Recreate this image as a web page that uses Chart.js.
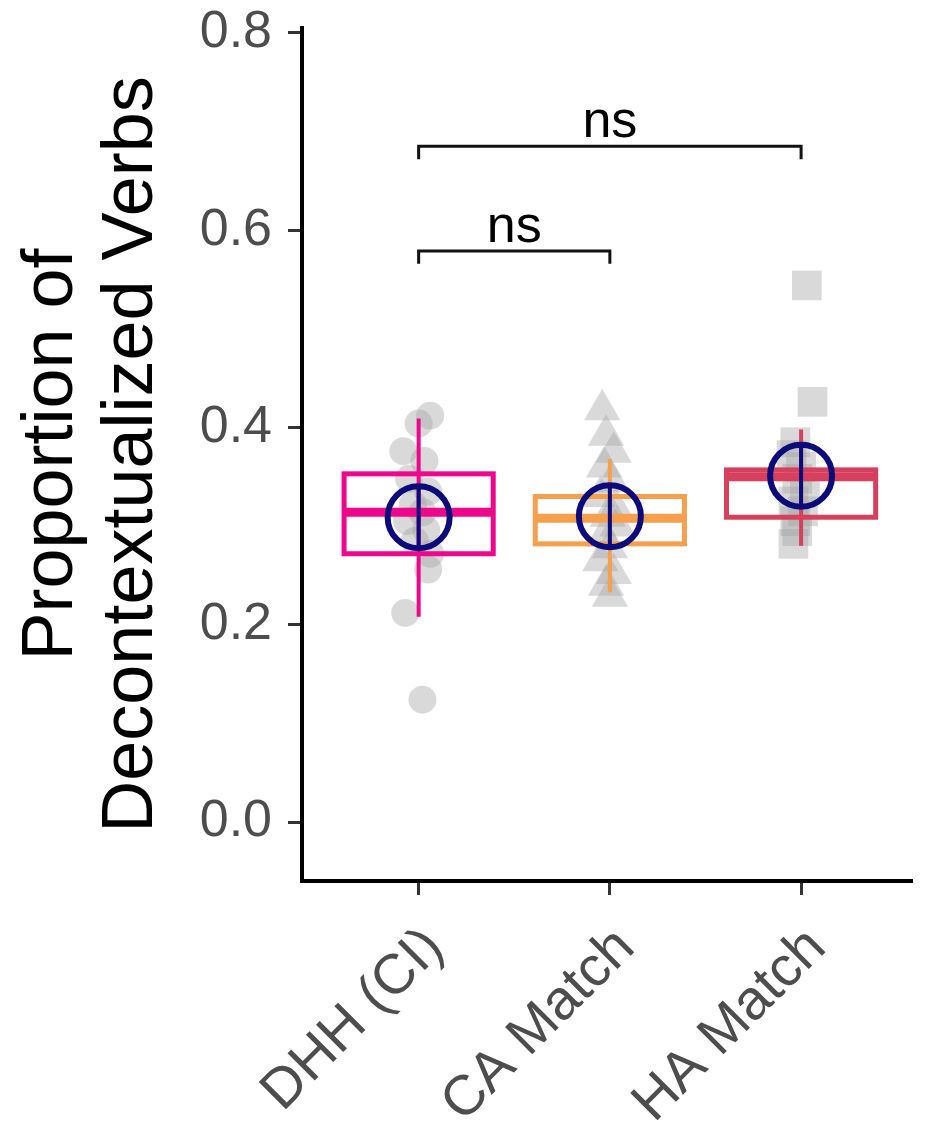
<!DOCTYPE html>
<html>
<head>
<meta charset="utf-8">
<script src="https://cdn.jsdelivr.net/npm/chart.js@4/dist/chart.umd.min.js"></script>
<style>
  body { margin: 0; background: #fff; }
</style>
</head>
<body>
<canvas id="chart" width="930" height="1135"></canvas>
<script>
// groups and axis ticks
const categories = ['DHH (CI)', 'CA Match', 'HA Match'];
const yTicks = [0, 0.2, 0.4, 0.6, 0.8];

// individual participants, with their horizontal jitter
const dhhValues = [0.412, 0.404, 0.376, 0.366, 0.348, 0.335, 0.322, 0.314, 0.305, 0.296, 0.285, 0.272, 0.256, 0.212, 0.124];
const dhhJitter = [0.06, 0.0, -0.08, 0.03, -0.05, 0.05, -0.03, 0.02, -0.06, 0.04, -0.02, 0.06, 0.05, -0.07, 0.02];
const caValues = [0.418, 0.392, 0.375, 0.36, 0.345, 0.33, 0.318, 0.31, 0.3, 0.29, 0.278, 0.265, 0.252, 0.24, 0.229];
const caJitter = [-0.04, -0.02, 0.02, -0.03, 0.01, -0.05, 0.03, -0.01, 0.04, -0.03, 0.0, -0.05, 0.02, -0.02, 0.0];
const haValues = [0.544, 0.426, 0.385, 0.372, 0.36, 0.348, 0.338, 0.325, 0.315, 0.305, 0.295, 0.282];
const haJitter = [0.03, 0.06, -0.03, -0.05, 0.0, -0.02, 0.02, -0.04, 0.01, -0.03, -0.02, -0.04];

// box summaries per group
const boxQ1 = [0.272, 0.282, 0.309];
const boxMedian = [0.314, 0.308, 0.350];
const boxQ3 = [0.353, 0.330, 0.357];
const rangeLow = [0.208, 0.233, 0.280];
const rangeHigh = [0.409, 0.368, 0.398];
const groupMeans = [0.309, 0.310, 0.351];
const meanSE = [0.031, 0.031, 0.031];

// significance brackets
const bracketFrom = [0, 0];
const bracketTo = [1, 2];
const bracketY = [0.579, 0.685];
const bracketText = ['ns', 'ns'];

const FONT = "'Liberation Sans', Arial, Helvetica, sans-serif";
const boxColors = ['#ee078c', '#f6a04e', '#d7405c'];
const navy = '#0b0b7c';
const grayPt = 'rgba(165,165,165,0.42)';

function pointSet(values, jitter, group) {
  return values.map((v, k) => ({ x: group + jitter[k], y: v }));
}

function bracketSet(k) {
  const tip = 0.013;
  return [
    { x: bracketFrom[k], y: bracketY[k] - tip },
    { x: bracketFrom[k], y: bracketY[k] },
    { x: bracketTo[k], y: bracketY[k] },
    { x: bracketTo[k], y: bracketY[k] - tip }
  ];
}

const boxPlugin = {
  id: 'boxes',
  afterDatasetDraw(chart, args) {
    if (args.index !== 0) return;
    const { ctx, scales: { x, y } } = chart;
    ctx.save();
    for (let i = 0; i < categories.length; i++) {
      const cx = x.getPixelForValue(i);
      const half = x.getPixelForValue(i + 0.39) - cx;
      ctx.strokeStyle = boxColors[i];
      // vertical range line
      ctx.lineWidth = 4;
      ctx.beginPath();
      ctx.moveTo(cx, y.getPixelForValue(rangeHigh[i]));
      ctx.lineTo(cx, y.getPixelForValue(rangeLow[i]));
      ctx.stroke();
      // box
      const top = y.getPixelForValue(boxQ3[i]);
      const bot = y.getPixelForValue(boxQ1[i]);
      ctx.lineWidth = 5;
      ctx.strokeRect(cx - half, top, half * 2, bot - top);
      // median
      const my = y.getPixelForValue(boxMedian[i]);
      ctx.lineWidth = 9;
      ctx.beginPath();
      ctx.moveTo(cx - half, my);
      ctx.lineTo(cx + half, my);
      ctx.stroke();
    }
    ctx.restore();
  },
  afterDatasetsDraw(chart) {
    const { ctx, scales: { x, y } } = chart;
    ctx.save();
    // error bars inside the mean circles
    ctx.strokeStyle = navy;
    ctx.lineWidth = 4;
    for (let i = 0; i < groupMeans.length; i++) {
      const cx = x.getPixelForValue(i);
      ctx.beginPath();
      ctx.moveTo(cx, y.getPixelForValue(groupMeans[i] + meanSE[i]));
      ctx.lineTo(cx, y.getPixelForValue(groupMeans[i] - meanSE[i]));
      ctx.stroke();
    }
    // bracket labels
    ctx.fillStyle = '#000';
    ctx.font = '52px ' + FONT;
    ctx.textAlign = 'center';
    ctx.textBaseline = 'alphabetic';
    for (let k = 0; k < bracketText.length; k++) {
      const mx = x.getPixelForValue((bracketFrom[k] + bracketTo[k]) / 2);
      ctx.fillText(bracketText[k], mx, y.getPixelForValue(bracketY[k]) - 9);
    }
    ctx.restore();
  }
};

const datasets = [
  { data: pointSet(dhhValues, dhhJitter, 0), pointStyle: 'circle', pointRadius: 14, order: 3 },
  { data: pointSet(caValues, caJitter, 1), pointStyle: 'triangle', pointRadius: 21, order: 3 },
  { data: pointSet(haValues, haJitter, 2), pointStyle: 'rect', pointRadius: 21, order: 3 }
].map(d => Object.assign(d, {
  type: 'scatter',
  backgroundColor: grayPt,
  borderWidth: 0,
  pointHoverRadius: d.pointRadius
}));

bracketText.forEach((t, k) => {
  datasets.push({
    type: 'line',
    data: bracketSet(k),
    borderColor: '#111',
    borderWidth: 3,
    pointRadius: 0,
    fill: false,
    tension: 0,
    order: 2
  });
});

datasets.push({
  type: 'scatter',
  data: groupMeans.map((m, i) => ({ x: i, y: m })),
  pointStyle: 'circle',
  pointRadius: 31,
  pointHoverRadius: 31,
  borderWidth: 6,
  borderColor: navy,
  backgroundColor: 'rgba(0,0,0,0)',
  order: 1
});

new Chart(document.getElementById('chart'), {
  type: 'scatter',
  data: { datasets: datasets },
  plugins: [boxPlugin],
  options: {
    responsive: false,
    animation: false,
    layout: { autoPadding: false, padding: { top: 28, right: 18, left: 0, bottom: 0 } },
    plugins: { legend: { display: false }, tooltip: { enabled: false } },
    events: [],
    scales: {
      x: {
        type: 'linear',
        min: -0.61,
        max: 2.58,
        afterBuildTicks: s => { s.ticks = categories.map((c, i) => ({ value: i })); },
        afterFit: s => {
          s.height = 254;
          s.paddingLeft = 0; s.paddingRight = 0; s.paddingTop = 0; s.paddingBottom = 0;
        },
        ticks: {
          autoSkip: false,
          minRotation: 45,
          maxRotation: 45,
          padding: 20,
          labelOffset: 16,
          color: '#4d4d4d',
          font: { family: FONT, size: 56, lineHeight: 1.2 },
          callback: v => categories[v]
        },
        grid: { display: true, drawOnChartArea: false, drawTicks: true, tickLength: 14, tickWidth: 3, tickColor: '#333' },
        border: { display: true, color: '#000', width: 4 }
      },
      y: {
        min: -0.0598,
        max: 0.805,
        afterBuildTicks: s => { s.ticks = yTicks.map(v => ({ value: v })); },
        afterFit: s => {
          s.width = 302;
          s.paddingLeft = 0; s.paddingRight = 0; s.paddingTop = 0; s.paddingBottom = 0;
        },
        ticks: {
          padding: 16,
          color: '#4d4d4d',
          font: { family: FONT, size: 52, lineHeight: 1 },
          callback: v => v.toFixed(1)
        },
        grid: { display: true, drawOnChartArea: false, drawTicks: true, tickLength: 14, tickWidth: 3, tickColor: '#333' },
        border: { display: true, color: '#000', width: 4 },
        title: {
          display: true,
          text: ['Proportion of', 'Decontextualized Verbs'],
          color: '#000',
          font: { family: FONT, size: 72, lineHeight: 1.11 },
          padding: { top: 12, bottom: 0 }
        }
      }
    }
  }
});
</script>
</body>
</html>
